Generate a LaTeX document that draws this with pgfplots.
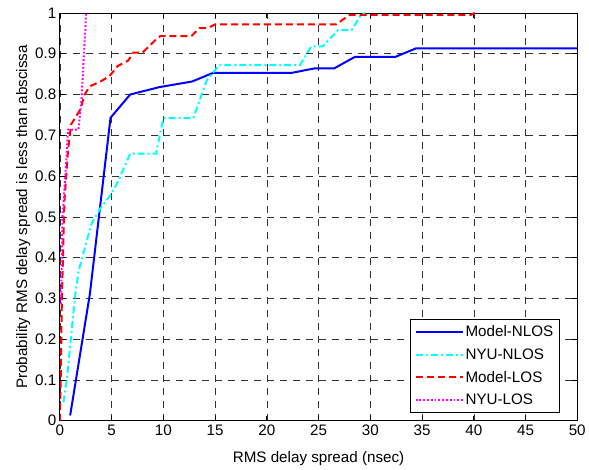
\documentclass[border=0pt]{standalone}
\usepackage{fontspec}
\setmainfont{Liberation Sans}
\usepackage{pgfplots}
\pgfplotsset{compat=1.18}
\definecolor{mblue}{rgb}{0,0,1}
\definecolor{mcyan}{rgb}{0,1,1}
\definecolor{mred}{rgb}{1,0,0}
\definecolor{mmag}{rgb}{1,0,1}

\begin{document}
\begin{tikzpicture}
\begin{axis}[name=ax,
  scale only axis, width=519bp, height=409bp,
  xmin=0, xmax=50, ymin=0, ymax=1,
  xtick={0,5,10,15,20,25,30,35,40,45,50},
  ytick={0,0.1,0.2,0.3,0.4,0.5,0.6,0.7,0.8,0.9,1},
  yticklabels={0,0.1,0.2,0.3,0.4,0.5,0.6,0.7,0.8,0.9,1},
  /pgf/number format/assume math mode=true,
  font=\fontsize{15.3}{18}\selectfont,
  tick label style={font=\fontsize{15.3}{18}\selectfont},
  xticklabel style={yshift=-1bp},
  tick align=inside, major tick length=5bp,
  axis line style={line width=0.8bp},
  every tick/.style={black, line width=0.6bp},
  grid=major,
  major grid style={dash pattern=on 7bp off 6bp, black!80, line width=0.5bp},
  xlabel={RMS delay spread (nsec)},
  ylabel={Probability RMS delay spread is less than abscissa},
  xlabel style={yshift=-9bp},
  ylabel style={yshift=-2bp},
  legend cell align=left,
  legend style={at={(rel axis cs:0.966,0.02)}, anchor=south east,
    draw=black, line width=0.6bp, fill=white,
    font=\fontsize{15.3}{18}\selectfont, row sep=6.5bp,
    inner xsep=4bp, inner ysep=4bp},
  legend image code/.code={\draw[#1, line width=2bp] (0bp,0bp) -- (47bp,0bp);},
]
\addplot[mblue, line width=2bp] coordinates {
(1.0,0.013) (2.9,0.31) (4.9,0.743) (6.8,0.800) (9.6,0.818) (12.8,0.832)
(14.8,0.853) (22.4,0.853) (24.6,0.864) (26.5,0.864) (28.5,0.892)
(32.4,0.892) (34.4,0.913) (50,0.913)};
\addlegendentry{Model-NLOS}
\addplot[mcyan, line width=2bp, dash pattern=on 7bp off 3bp on 2bp off 3bp] coordinates {
(0.35,0.045) (0.7,0.105) (1.45,0.30) (1.8,0.365) (2.7,0.45) (3.1,0.485)
(3.9,0.52) (4.8,0.55) (5.6,0.585) (6.8,0.655) (9.3,0.655) (10.0,0.742)
(12.9,0.742) (14.2,0.835) (15.4,0.872) (23.2,0.872) (24.3,0.918)
(25.4,0.918) (26.9,0.958) (28.2,0.958) (29.1,0.995) (29.5,1)};
\addlegendentry{NYU-NLOS}
\addplot[mred, line width=2bp, dash pattern=on 7bp off 4bp] coordinates {
(0,0) (0.1,0.12) (0.2,0.30) (0.45,0.54) (0.8,0.665) (1.1,0.727) (2.0,0.764)
(2.4,0.800) (2.9,0.820) (4.0,0.833) (4.8,0.845) (5.6,0.870) (6.6,0.883)
(7.1,0.903) (8.0,0.903) (9.3,0.935) (9.7,0.943) (12.7,0.943) (13.5,0.963)
(14.3,0.963) (15.0,0.972) (26.7,0.972) (28.0,0.995) (39.7,0.995) (40.1,1)};
\addlegendentry{Model-LOS}
\addplot[mmag, line width=2bp, dash pattern=on 1.8bp off 2bp] coordinates {
(0.12,0.286) (0.25,0.50) (0.48,0.58) (0.8,0.714) (1.8,0.714) (2.1,0.79)
(2.55,1)};
\addlegendentry{NYU-LOS}
\end{axis}
\path (ax.south west) ++(-60bp,-41bp) (ax.north east) ++(10bp,13bp);
\end{tikzpicture}
\end{document}
